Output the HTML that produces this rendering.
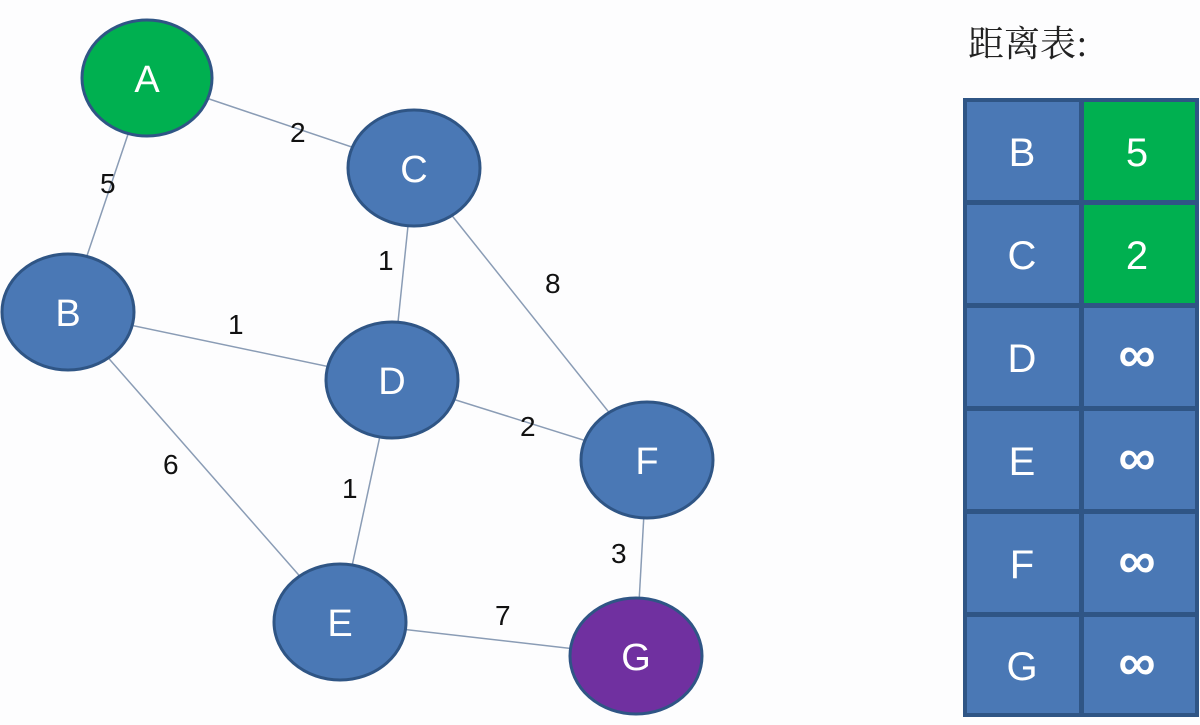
<!DOCTYPE html>
<html><head><meta charset="utf-8"><style>
body{margin:0;background:#fdfdfe;width:1200px;height:720px;overflow:hidden;font-family:"Liberation Sans",sans-serif}
</style></head><body>
<svg width="1200" height="720" xmlns="http://www.w3.org/2000/svg" font-family="Liberation Sans, sans-serif">
<g stroke="#8a9cb5" stroke-width="1.5">
<line x1="147" y1="78" x2="414" y2="168"/>
<line x1="147" y1="78" x2="68" y2="312"/>
<line x1="414" y1="168" x2="392" y2="380"/>
<line x1="414" y1="168" x2="647" y2="460"/>
<line x1="68" y1="312" x2="392" y2="380"/>
<line x1="68" y1="312" x2="340" y2="622"/>
<line x1="392" y1="380" x2="647" y2="460"/>
<line x1="392" y1="380" x2="340" y2="622"/>
<line x1="647" y1="460" x2="636" y2="656"/>
<line x1="340" y1="622" x2="636" y2="656"/>
</g>
<g font-size="28" fill="#111">
<text x="290" y="142">2</text><text x="100" y="193">5</text><text x="378" y="270">1</text>
<text x="545" y="293">8</text><text x="228" y="334">1</text><text x="520" y="436">2</text>
<text x="163" y="474">6</text><text x="342" y="498">1</text><text x="611" y="563">3</text>
<text x="495" y="625">7</text>
</g>
<g stroke="#2f5585" stroke-width="3">
<ellipse cx="147" cy="78" rx="65" ry="58" fill="#00b050"/>
<ellipse cx="414" cy="168" rx="66" ry="58" fill="#4a78b5"/>
<ellipse cx="68" cy="312" rx="66" ry="58" fill="#4a78b5"/>
<ellipse cx="392" cy="380" rx="66" ry="58" fill="#4a78b5"/>
<ellipse cx="647" cy="460" rx="66" ry="58" fill="#4a78b5"/>
<ellipse cx="340" cy="622" rx="66" ry="58" fill="#4a78b5"/>
<ellipse cx="636" cy="656" rx="66" ry="58" fill="#7030a0"/>
</g>
<g font-size="38" fill="#fff" text-anchor="middle">
<text x="147" y="92">A</text><text x="414" y="182">C</text><text x="68" y="326">B</text>
<text x="392" y="394">D</text><text x="647" y="474">F</text><text x="340" y="636">E</text>
<text x="636" y="670">G</text>
</g>
<text x="968" y="56" font-size="36" fill="#222" font-family="Noto Serif CJK SC, serif">距离表:</text>
<rect x="963" y="98" width="236" height="619" fill="#2f5585"/>
<g fill="#4a78b5">
<rect x="967" y="102" width="112" height="98"/><rect x="967" y="205" width="112" height="98"/>
<rect x="967" y="308" width="112" height="98"/><rect x="967" y="411" width="112" height="98"/>
<rect x="967" y="514" width="112" height="98"/><rect x="967" y="617" width="112" height="96"/>
<rect x="1084" y="308" width="111" height="98"/><rect x="1084" y="411" width="111" height="98"/>
<rect x="1084" y="514" width="111" height="98"/><rect x="1084" y="617" width="111" height="96"/>
</g>
<rect x="1084" y="102" width="111" height="98" fill="#00b050"/>
<rect x="1084" y="205" width="111" height="98" fill="#00b050"/>
<g font-size="40" fill="#fff" text-anchor="middle">
<text x="1022" y="166">B</text><text x="1137" y="166">5</text>
<text x="1022" y="269">C</text><text x="1137" y="269">2</text>
<text x="1022" y="372">D</text>
<text x="1022" y="475">E</text>
<text x="1022" y="578">F</text>
<text x="1022" y="680">G</text>
</g>
<g font-size="52" font-weight="bold" fill="#fff" text-anchor="middle">
<text x="1137" y="372">∞</text><text x="1137" y="475">∞</text>
<text x="1137" y="578">∞</text><text x="1137" y="680">∞</text>
</g>
</svg>
</body></html>
